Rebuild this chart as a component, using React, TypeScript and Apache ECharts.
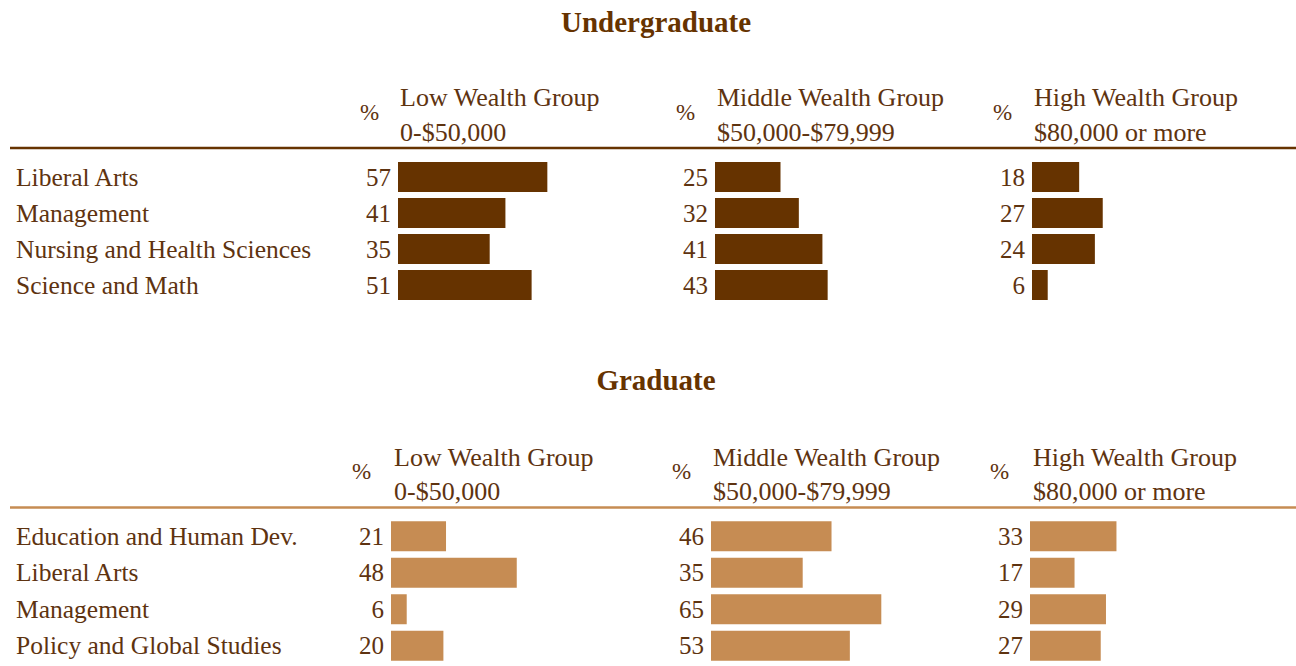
import React, { useEffect, useRef } from "react";
import * as echarts from "echarts";

const ugCategories = ["Liberal Arts", "Management", "Nursing and Health Sciences", "Science and Math"];
const ugLow = [57, 41, 35, 51];
const ugMid = [25, 32, 41, 43];
const ugHigh = [18, 27, 24, 6];

const gradCategories = ["Education and Human Dev.", "Liberal Arts", "Management", "Policy and Global Studies"];
const gradLow = [21, 48, 6, 20];
const gradMid = [46, 35, 65, 53];
const gradHigh = [33, 17, 29, 27];

const groupNames = ["Low Wealth Group", "Middle Wealth Group", "High Wealth Group"];
const groupRanges = ["0-$50,000", "$50,000-$79,999", "$80,000 or more"];
const panelTitles = ["Undergraduate", "Graduate"];

const TEXT = "#5e3310";
const DARK = "#663300";
const TAN = "#c68c53";
const FONT = '"Liberation Serif", "Times New Roman", serif';

export default function App() {
  const ref = useRef<HTMLDivElement>(null);
  useEffect(() => {
    document.body.style.margin = "0";
    if (!ref.current) return;
    const chart = echarts.init(ref.current, undefined, { renderer: "svg" });

    const panels = [
      {
        cats: ugCategories,
        series: [ugLow, ugMid, ugHigh],
        lefts: [398, 715, 1032],
        top: 159,
        height: 144,
        color: DARK,
        titleY: 22,
        line1Y: 97,
        line2Y: 132,
        pctY: 112,
        headerX: [400, 717, 1034],
        pctX: [360, 676, 993],
        ruleY: 148,
      },
      {
        cats: gradCategories,
        series: [gradLow, gradMid, gradHigh],
        lefts: [391, 711, 1030],
        top: 518,
        height: 146,
        color: TAN,
        titleY: 380,
        line1Y: 457,
        line2Y: 491,
        pctY: 471,
        headerX: [394, 713, 1033],
        pctX: [352, 672, 990],
        ruleY: 507.5,
      },
    ];

    const grid: any[] = [];
    const xAxis: any[] = [];
    const yAxis: any[] = [];
    const series: any[] = [];
    const graphic: any[] = [];

    panels.forEach((p, pi) => {
      graphic.push({
        type: "text",
        style: {
          text: panelTitles[pi],
          x: 656,
          y: p.titleY,
          fill: DARK,
          fontSize: 29,
          fontWeight: "bold",
          fontFamily: FONT,
          align: "center",
          verticalAlign: "middle",
        },
      });
      graphic.push({
        type: "line",
        shape: { x1: 10, y1: p.ruleY, x2: 1296, y2: p.ruleY },
        style: { stroke: p.color, lineWidth: 2.5 },
      });
      p.series.forEach((vals, ci) => {
        const idx = grid.length;
        graphic.push({
          type: "text",
          style: { text: groupNames[ci], x: p.headerX[ci], y: p.line1Y, fill: TEXT, fontSize: 26, fontFamily: FONT, verticalAlign: "middle" },
        });
        graphic.push({
          type: "text",
          style: { text: groupRanges[ci], x: p.headerX[ci], y: p.line2Y, fill: TEXT, fontSize: 26, fontFamily: FONT, verticalAlign: "middle" },
        });
        graphic.push({
          type: "text",
          style: { text: "%", x: p.pctX[ci], y: p.pctY, fill: TEXT, fontSize: 23, fontFamily: FONT, verticalAlign: "middle" },
        });
        grid.push({ left: p.lefts[ci], top: p.top, width: 262, height: p.height, containLabel: false });
        xAxis.push({ type: "value", gridIndex: idx, min: 0, max: 100, show: false });
        yAxis.push({
          type: "category",
          gridIndex: idx,
          inverse: true,
          data: p.cats,
          axisLine: { show: false },
          axisTick: { show: false },
          splitLine: { show: false },
          axisLabel: {
            show: ci === 0,
            align: "left",
            margin: p.lefts[ci] - 16,
            color: TEXT,
            fontSize: 25.5,
            fontFamily: FONT,
            padding: [5, 0, 0, 0],
          },
        });
        series.push({
          type: "bar",
          xAxisIndex: idx,
          yAxisIndex: idx,
          data: vals,
          barWidth: 30,
          itemStyle: { color: p.color },
          label: {
            show: true,
            position: "left",
            distance: 7,
            color: TEXT,
            fontSize: 25,
            fontFamily: FONT,
            padding: [5, 0, 0, 0],
            formatter: "{c}",
          },
        });
      });
    });

    chart.setOption({
      animation: false,
      backgroundColor: "#ffffff",
      grid,
      xAxis,
      yAxis,
      series,
      graphic,
    });
    return () => chart.dispose();
  }, []);
  return <div ref={ref} style={{ width: 1296, height: 666 }} />;
}
